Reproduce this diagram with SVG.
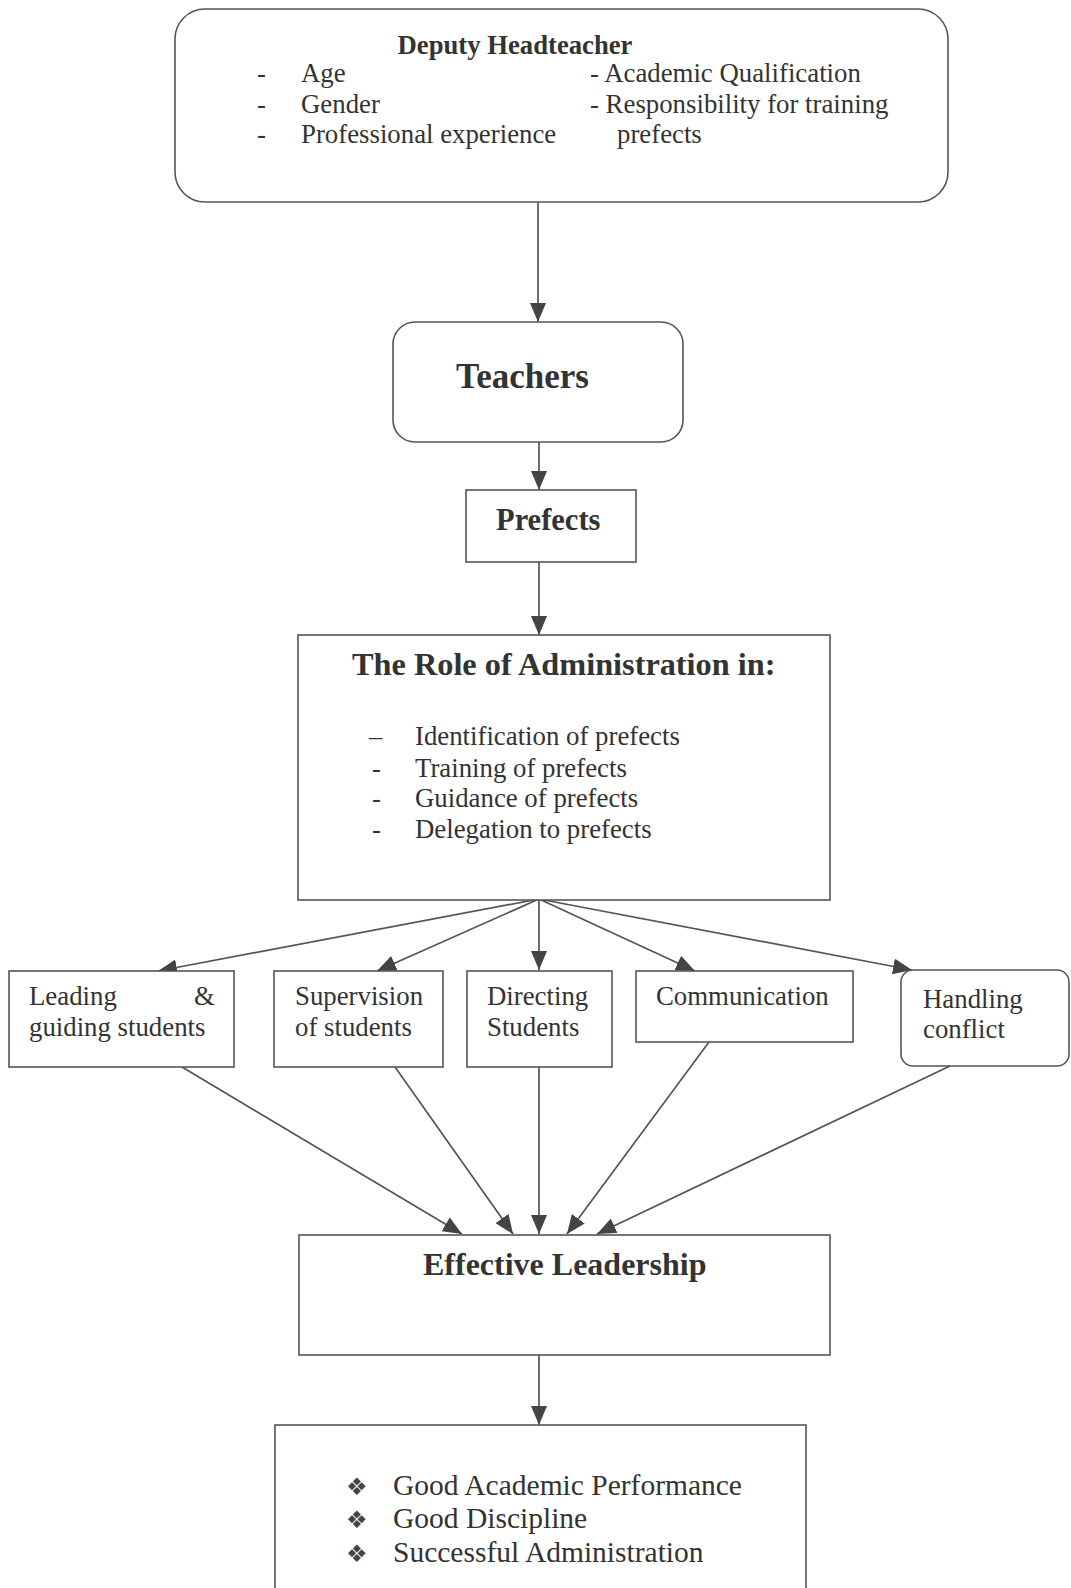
<svg xmlns="http://www.w3.org/2000/svg" width="1071" height="1588" viewBox="0 0 1071 1588">
<style>
.box{fill:#fff;stroke:#555;stroke-width:1.6}
.t{font-family:"Liberation Serif","Times New Roman",serif;font-size:26.8px;fill:#333}
.t2{font-family:"Liberation Serif","Times New Roman",serif;font-size:29.5px;fill:#333}
.b{font-family:"Liberation Serif","Times New Roman",serif;font-weight:bold;fill:#333}
.bul{font-family:"DejaVu Sans",sans-serif;font-size:24px;fill:#444}
.c{fill:none;stroke:#555;stroke-width:1.7}
</style>
<defs>
<marker id="ah" markerUnits="userSpaceOnUse" markerWidth="20" markerHeight="16" refX="19" refY="8" orient="auto">
<path d="M0,0 L19,8 L0,16 z" fill="#444"/>
</marker>
</defs>
<rect width="1071" height="1588" fill="#fff"/>
<g id="connectors">
<path class="c" marker-end="url(#ah)" d="M538,202 L538,322"/>
<path class="c" marker-end="url(#ah)" d="M539,442 L539,490"/>
<path class="c" marker-end="url(#ah)" d="M539,562 L539,635"/>
<path class="c" marker-end="url(#ah)" d="M539,899 L158,971"/>
<path class="c" marker-end="url(#ah)" d="M539,899 L377,971"/>
<path class="c" marker-end="url(#ah)" d="M539,899 L539,970"/>
<path class="c" marker-end="url(#ah)" d="M539,899 L695,971"/>
<path class="c" marker-end="url(#ah)" d="M539,899 L912,970"/>
<path class="c" marker-end="url(#ah)" d="M182,1067 L462,1234"/>
<path class="c" marker-end="url(#ah)" d="M395,1067 L513,1234"/>
<path class="c" marker-end="url(#ah)" d="M539,1067 L539,1234"/>
<path class="c" marker-end="url(#ah)" d="M709,1042 L567,1234"/>
<path class="c" marker-end="url(#ah)" d="M950,1066 L597,1234"/>
<path class="c" marker-end="url(#ah)" d="M539,1355 L539,1425"/>
</g>
<g id="deputy">
<rect class="box" x="175" y="9" width="773" height="193" rx="30"/>
<text class="b" x="515" y="54" font-size="26.7" text-anchor="middle">Deputy Headteacher</text>
<text class="t" x="257" y="82">-</text><text class="t" x="301" y="82">Age</text>
<text class="t" x="257" y="113">-</text><text class="t" x="301" y="113">Gender</text>
<text class="t" x="257" y="143">-</text><text class="t" x="301" y="143">Professional experience</text>
<text class="t" x="590" y="82">- Academic Qualification</text>
<text class="t" x="590" y="113">- Responsibility for training</text>
<text class="t" x="617" y="143">prefects</text>
</g>
<g id="teachers">
<rect class="box" x="393" y="322" width="290" height="120" rx="22"/>
<text class="b" x="456" y="388" font-size="35">Teachers</text>
</g>
<g id="prefects">
<rect class="box" x="466" y="490" width="170" height="72"/>
<text class="b" x="496" y="530" font-size="30.5">Prefects</text>
</g>
<g id="role">
<rect class="box" x="298" y="635" width="532" height="265"/>
<text class="b" x="352" y="675" font-size="32.3">The Role of Administration in:</text>
<text class="t" x="369" y="745">–</text><text class="t" x="415" y="745">Identification of prefects</text>
<text class="t" x="372" y="777">-</text><text class="t" x="415" y="777">Training of prefects</text>
<text class="t" x="372" y="807">-</text><text class="t" x="415" y="807">Guidance of prefects</text>
<text class="t" x="372" y="838">-</text><text class="t" x="415" y="838">Delegation to prefects</text>
</g>
<g id="leading">
<rect class="box" x="9" y="971" width="225" height="96"/>
<text class="t" x="29" y="1005">Leading</text><text class="t" x="194" y="1005">&amp;</text>
<text class="t" x="29" y="1036">guiding students</text>
</g>
<g id="supervision">
<rect class="box" x="274" y="971" width="169" height="96"/>
<text class="t" x="295" y="1005">Supervision</text>
<text class="t" x="295" y="1036">of students</text>
</g>
<g id="directing">
<rect class="box" x="467" y="971" width="145" height="96"/>
<text class="t" x="487" y="1005">Directing</text>
<text class="t" x="487" y="1036">Students</text>
</g>
<g id="communication">
<rect class="box" x="636" y="971" width="217" height="71"/>
<text class="t" x="656" y="1005">Communication</text>
</g>
<g id="handling">
<rect class="box" x="901" y="970" width="168" height="96" rx="12"/>
<text class="t" x="923" y="1008">Handling</text>
<text class="t" x="923" y="1038">conflict</text>
</g>
<g id="effective">
<rect class="box" x="299" y="1235" width="531" height="120"/>
<text class="b" x="423" y="1275" font-size="32">Effective Leadership</text>
</g>
<g id="outcomes">
<rect class="box" x="275" y="1425" width="531" height="175"/>
<text class="bul" x="346" y="1495">❖</text><text class="t2" x="393" y="1495">Good Academic Performance</text>
<text class="bul" x="346" y="1528">❖</text><text class="t2" x="393" y="1528">Good Discipline</text>
<text class="bul" x="346" y="1562">❖</text><text class="t2" x="393" y="1562">Successful Administration</text>
</g>
</svg>
